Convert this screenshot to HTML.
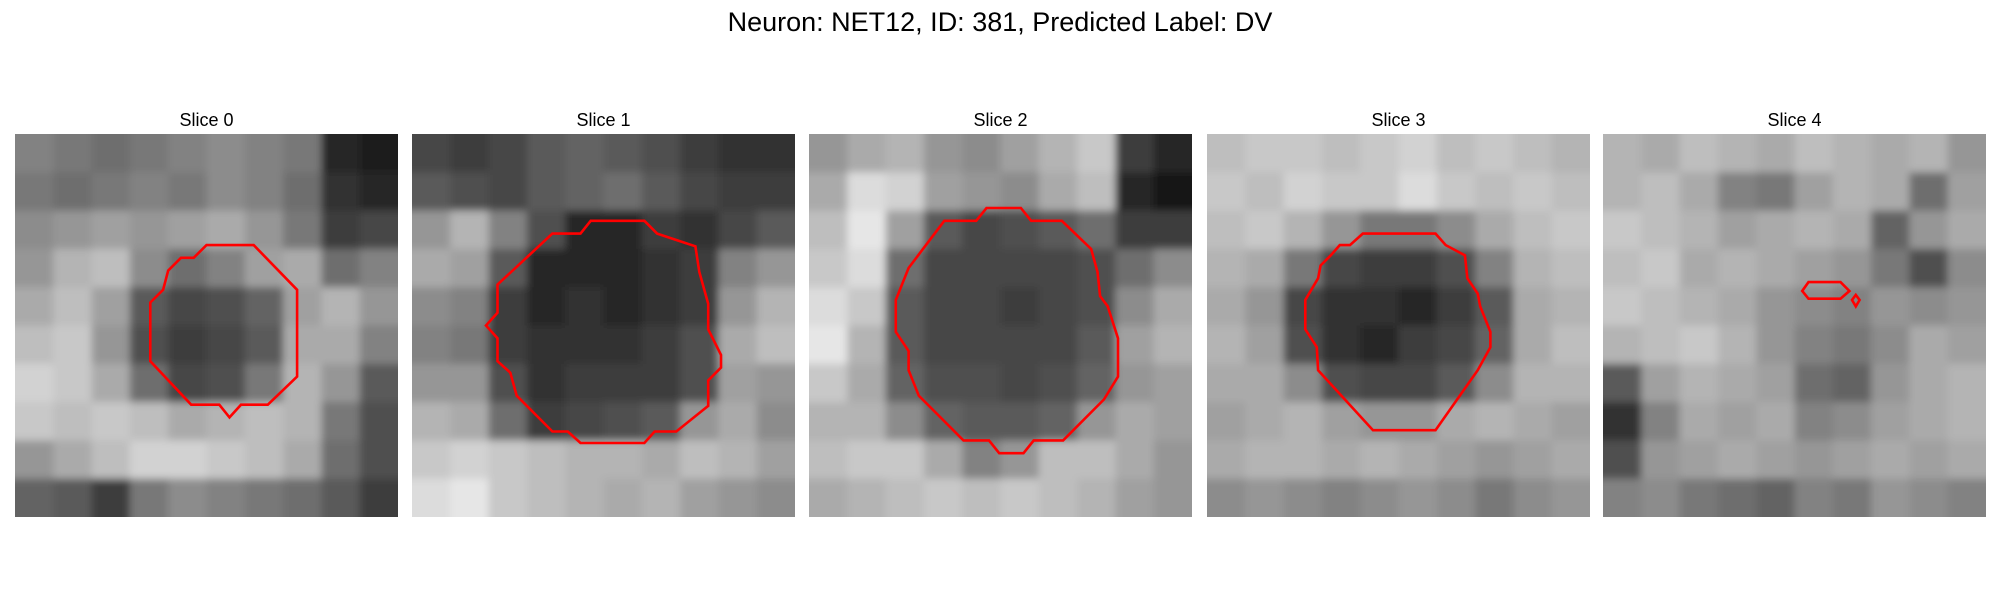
<!DOCTYPE html>
<html><head><meta charset="utf-8">
<style>
html,body{margin:0;padding:0;background:#fff;}
svg{display:block;font-family:"Liberation Sans","DejaVu Sans",sans-serif;}
</style></head>
<body>
<svg id="fig" width="2000" height="600" viewBox="0 0 2000 600" xmlns="http://www.w3.org/2000/svg">
<defs>
<filter id="soft" x="-0.2" y="-0.2" width="1.4" height="1.4"><feGaussianBlur stdDeviation="4"/></filter>
</defs>
<text x="1000" y="31" text-anchor="middle" font-size="27" fill="#000">Neuron: NET12, ID: 381, Predicted Label: DV</text>
</svg>
<script>
const sliceTitles = ["Slice 0","Slice 1","Slice 2","Slice 3","Slice 4"];
const img0 = [
[130,120,110,120,130,140,130,120,40,30],
[120,110,120,130,120,140,130,110,50,40],
[140,150,160,150,160,170,150,120,60,70],
[150,180,190,140,110,130,160,170,110,130],
[170,190,160,90,70,80,100,160,180,150],
[190,200,150,80,60,70,90,170,170,130],
[210,200,170,110,70,80,120,180,150,90],
[200,190,200,190,170,180,190,180,120,80],
[150,170,190,210,210,200,190,170,110,80],
[100,90,60,120,140,130,120,110,90,60]];
const img1 = [
[70,60,70,90,100,90,80,60,50,50],
[90,80,70,90,100,110,90,70,60,60],
[150,180,130,80,40,40,60,50,70,90],
[170,160,90,40,40,40,50,60,130,150],
[140,130,60,40,50,40,50,60,150,180],
[130,120,60,50,50,50,60,80,170,190],
[150,150,80,50,60,60,60,80,160,150],
[180,170,110,60,70,80,90,150,170,140],
[200,210,200,190,180,180,170,190,180,160],
[220,230,200,190,180,170,180,160,150,140]];
const img2 = [
[150,170,180,150,140,160,180,200,60,40],
[170,220,210,160,150,140,170,190,40,20],
[190,230,160,90,70,80,90,110,60,60],
[200,220,110,70,70,70,70,80,110,140],
[220,200,90,70,70,60,70,80,140,170],
[230,180,90,70,70,70,70,90,160,180],
[200,170,100,80,80,70,80,100,150,160],
[180,180,140,100,90,90,100,150,170,160],
[190,200,200,170,130,150,190,190,170,150],
[170,180,190,200,190,200,190,180,160,150]];
const img3 = [
[190,200,200,190,200,210,190,200,190,180],
[200,190,210,200,200,220,200,190,200,190],
[190,200,180,150,120,120,140,170,190,200],
[180,170,120,70,60,60,80,130,180,190],
[170,150,70,50,50,40,60,90,170,180],
[180,160,80,50,40,60,70,100,170,190],
[170,170,140,80,70,70,90,140,180,180],
[160,170,180,160,150,150,170,180,170,160],
[170,180,180,170,180,170,160,150,160,170],
[140,150,140,130,140,150,140,120,140,150]];
const img4 = [
[180,170,190,180,170,190,180,170,180,150],
[180,190,170,130,120,160,180,170,110,160],
[200,190,180,160,170,180,170,100,150,170],
[190,200,170,180,170,160,150,120,80,140],
[200,190,180,170,150,140,130,150,140,150],
[180,190,200,180,150,130,120,140,170,160],
[90,160,180,170,160,110,100,150,170,180],
[50,130,170,160,170,130,140,160,170,180],
[80,150,160,170,160,150,160,170,160,170],
[130,140,120,110,100,130,120,150,140,130]];
const contour0 = [[[15,8.7],[18.7,8.7],[22.1,12.2],[22.1,19],[19.8,21.2],[17.7,21.2],[16.8,22.2],[16,21.2],[13.8,21.2],[10.6,17.8],[10.6,13.2],[11.6,12.2],[12,10.7],[13,9.7],[14,9.7]]];
const contour1 = [[[11,7.8],[13.2,7.8],[14,6.8],[18.2,6.8],[19.2,7.8],[20.7,8.3],[22.2,8.8],[22.5,10.8],[23.2,13.3],[23.2,15.3],[24.2,17.3],[24.2,18.3],[23.2,19.3],[23.2,21.3],[20.7,23.3],[19,23.3],[18.2,24.2],[13.2,24.2],[12.2,23.3],[11,23.3],[8.2,20.5],[7.7,18.7],[6.7,17.8],[6.7,16],[5.8,15],[6.7,14],[6.7,11.8]]];
const contour2 = [[[10.6,6.8],[13.1,6.8],[13.9,5.8],[16.6,5.8],[17.4,6.8],[19.8,6.8],[22.1,9],[22.6,10.8],[22.8,12.7],[23.4,13.5],[24.2,16],[24.2,19],[23.1,20.8],[19.9,24],[17.6,24],[16.8,25],[14.9,25],[14.1,24],[12.1,24],[8.6,20.5],[7.8,18.5],[7.8,17],[6.8,15.5],[6.8,13],[7.8,10.5]]];
const contour3 = [[[12.2,7.8],[17.9,7.8],[18.7,8.7],[20.2,9.5],[20.4,11.3],[21.2,12.5],[21.4,13.5],[22.2,15.5],[22.2,16.7],[21.2,18.5],[17.9,23.2],[13,23.2],[8.7,18.5],[8.6,16.7],[7.7,15.3],[7.7,13],[8.7,11.3],[8.9,10.3],[9.7,9.5],[10.4,8.7],[11.2,8.7]]];
const contour4 = [[[16.1,11.6],[18.6,11.6],[19.3,12.3],[18.6,12.9],[16.1,12.9],[15.6,12.3]],[[19.8,12.6],[20.1,13],[19.8,13.5],[19.5,13]]];

const images=[img0,img1,img2,img3,img4];
const contours=[contour0,contour1,contour2,contour3,contour4];
const NS="http://www.w3.org/2000/svg";
const svg=document.getElementById('fig');
const panelX=[15,412,809,1207,1603], panelY=134, panelS=383, dataN=30, pad=25;
function sx(i,v){return panelX[i]+v/dataN*panelS;}
function sy(v){return panelY+v/dataN*panelS;}
images.forEach((img,i)=>{
  const g=document.createElementNS(NS,'g');
  
  
  const t=document.createElementNS(NS,'text');
  
  
  t.setAttribute('x',panelX[i]+panelS/2);t.setAttribute('y',126);
  t.setAttribute('text-anchor','middle');t.setAttribute('font-size','18');
  t.textContent=sliceTitles[i];g.appendChild(t);
  const cp=document.createElementNS(NS,'clipPath');cp.setAttribute('id','cp'+i);
  const cr=document.createElementNS(NS,'rect');
  cr.setAttribute('x',panelX[i]);cr.setAttribute('y',panelY);cr.setAttribute('width',panelS);cr.setAttribute('height',panelS);
  cp.appendChild(cr);g.appendChild(cp);
  const ig=document.createElementNS(NS,'g');
  
  
  ig.setAttribute('clip-path','url(#cp'+i+')');
  const inner=document.createElementNS(NS,'g');inner.setAttribute('filter','url(#soft)');
  const n=img.length, c=dataN/n, cs=panelS/n;
  img.forEach((row,r)=>row.forEach((v,k)=>{
    let x=sx(i,k*c), y=sy(r*c), w=cs+0.5, h=cs+0.5;
    if(k===0){x-=pad;w+=pad;} if(k===n-1){w+=pad;}
    if(r===0){y-=pad;h+=pad;} if(r===n-1){h+=pad;}
    const rc=document.createElementNS(NS,'rect');
    
    
    rc.setAttribute('x',x);rc.setAttribute('y',y);
    rc.setAttribute('width',w);rc.setAttribute('height',h);
    rc.setAttribute('fill','rgb('+v+','+v+','+v+')');
    inner.appendChild(rc);
  }));
  ig.appendChild(inner);g.appendChild(ig);
  contours[i].forEach(poly=>{
    const p=document.createElementNS(NS,'polygon');
    
    
    p.setAttribute('points',poly.map(q=>sx(i,q[0]).toFixed(1)+','+sy(q[1]).toFixed(1)).join(' '));
    p.setAttribute('fill','none');p.setAttribute('stroke','#ff0000');p.setAttribute('stroke-width','2.6');
    g.appendChild(p);
  });
  svg.appendChild(g);
});
</script>
</body></html>
